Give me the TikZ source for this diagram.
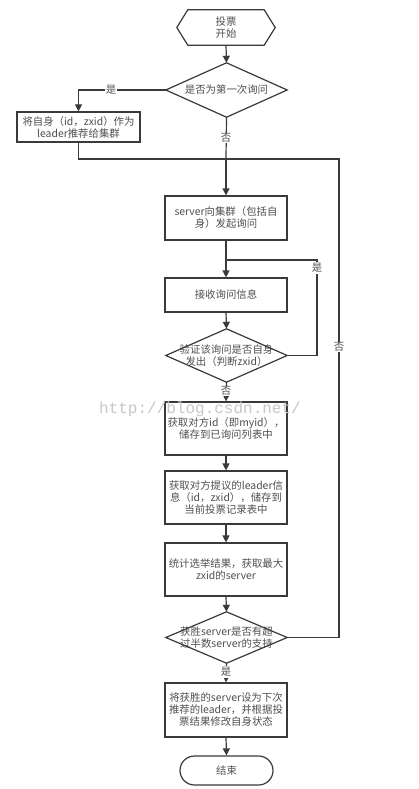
\documentclass[tikz,border=0pt]{standalone}
\usepackage{fontspec}
\setmainfont{Noto Sans CJK SC}
\newfontfamily\wmfont{Liberation Mono}
\usetikzlibrary{arrows.meta}
\definecolor{ln}{HTML}{3A3A3A}
\definecolor{tx}{HTML}{505050}
\tikzset{
  box/.style={draw=ln, line width=1.2pt, minimum width=122pt, align=center, inner sep=2pt, text=tx, font=\fontsize{10.4}{12}\selectfont},
  shapebox/.style={minimum width=121pt, align=center, inner sep=0pt, text=tx, font=\fontsize{10.4}{12}\selectfont},
  outline/.style={draw=ln, line width=1.2pt},
  conn/.style={draw=ln, line width=1.2pt},
  arr/.style={conn, -{Triangle[length=7pt,width=7pt]}},
  lbl/.style={fill=white, inner sep=1pt, text=tx, font=\fontsize{10.4}{12}\selectfont}
}
\begin{document}
\begin{tikzpicture}[x=1pt,y=-1pt]
\path[use as bounding box, fill=white] (0,0) rectangle (418,789);

% start hexagon
\node[shapebox, minimum width=98pt, minimum height=35pt] (start) at (226,27.5) {投票\\开始};
\draw[outline] (start.west) -- ([xshift=11pt]start.north west) -- ([xshift=-11pt]start.north east) -- (start.east) -- ([xshift=-11pt]start.south east) -- ([xshift=11pt]start.south west) -- cycle;

% decision 1
\node[shapebox, minimum height=54pt] (d1) at (226.5,90) {是否为第一次询问};
\draw[outline] (d1.west) -- (d1.north) -- (d1.east) -- (d1.south) -- cycle;

% left box
\node[box, minimum width=123pt, minimum height=30pt] (b1) at (78.5,127) {将自身（id，zxid）作为\\leader推荐给集群};

% box 2
\node[box, minimum height=44pt] (b2) at (226,218) {server向集群（包括自\\身）发起询问};

% box 3
\node[box, minimum height=34pt] (b3) at (226,295) {接收询问信息};

% decision 2
\node[shapebox, minimum height=53pt] (d2) at (226.5,355.5) {验证该询问是否自身\\发出（判断zxid）};
\draw[outline] (d2.west) -- (d2.north) -- (d2.east) -- (d2.south) -- cycle;

% box 4
\node[box, minimum height=53pt] (b4) at (226,428.5) {获取对方id（即myid），\\储存到已询问列表中};

% box 5
\node[box, minimum height=53pt] (b5) at (226,497.5) {获取对方提议的leader信\\息（id，zxid），储存到\\当前投票记录表中};

% box 6
\node[box, minimum height=53pt] (b6) at (226,569.5) {统计选举结果，获取最大\\zxid的server};

% decision 3
\node[shapebox, minimum height=51pt] (d3) at (226.5,637.5) {获胜server是否有超\\过半数server的支持};
\draw[outline] (d3.west) -- (d3.north) -- (d3.east) -- (d3.south) -- cycle;

% box 7
\node[box, minimum height=54pt] (b7) at (226,710) {将获胜的server设为下次\\推荐的leader，并根据投\\票结果修改自身状态};

% end
\node[draw=ln, line width=1.2pt, rounded corners=14.5pt, minimum width=93pt, minimum height=29pt, text=tx, font=\fontsize{10.4}{12}\selectfont] (end) at (226.5,770.5) {结束};

% junction coordinates
\coordinate (j1) at (226,159);
\coordinate (j2) at (226,260);
\coordinate (l1) at (78.5,90);
\coordinate (r1) at (339,637.5);
\coordinate (r2) at (339,159);
\coordinate (s1) at (317,355.5);
\coordinate (s2) at (317,260);

% connectors
\draw[arr] (start.south) -- (d1.north);
\draw[arr] (d1.west) -- (l1) -- (b1.north);
\node[lbl] (ys1) at (111,90) {是};
\draw[conn] (d1.south) -- (j1);
\node[lbl] (no1) at (226,138) {否};
\draw[conn] (b1.south) |- (j1);
\draw[arr] (j1) -- (b2.north);
\draw[conn] (d3.east) -- (r1) -- (r2) -- (j1);
\node[lbl] (no3) at (339,347) {否};
\draw[arr] (b2.south) -- (b3.north);
\draw[conn] (d2.east) -- (s1) -- (s2) -- (j2);
\node[lbl] (ys2) at (317,268) {是};
\draw[arr] (b3.south) -- (d2.north);
\draw[arr] (d2.south) -- (b4.north);
\node[lbl] (no2) at (226,391) {否};
\draw[arr] (b4.south) -- (b5.north);
\draw[arr] (b5.south) -- (b6.north);
\draw[arr] (b6.south) -- (d3.north);
\draw[arr] (d3.south) -- (b7.north);
\node[lbl] (ys3) at (226,672) {是};
\draw[arr] (b7.south) -- (end.north);

% watermark
\node[text=black!22, font=\wmfont\fontsize{16}{16}\selectfont, inner sep=0pt] (wm) at (200,409) {http://blog.csdn.net/};
\end{tikzpicture}
\end{document}
